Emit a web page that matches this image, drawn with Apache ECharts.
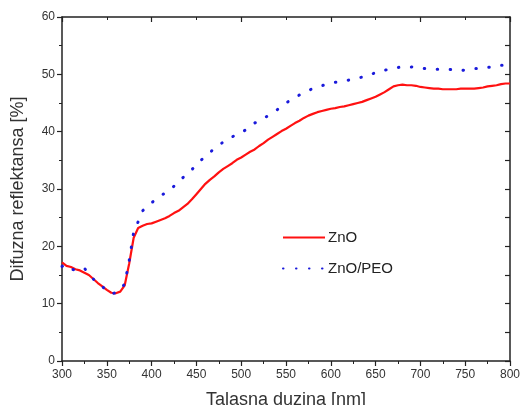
<!DOCTYPE html>
<html><head><meta charset="utf-8">
<script src="https://cdn.jsdelivr.net/npm/echarts@6/dist/echarts.min.js"></script>
<style>html,body{margin:0;padding:0;background:#fff}#c{width:521px;height:405px}</style>
</head><body><div id="c"></div>
<script>
var wavelengths = [300,305,310,315,320,325,330,335,340,345,350,355,360,365,370,375,380,385,390,395,400,405,410,415,420,425,430,435,440,445,450,455,460,465,470,475,480,485,490,495,500,505,510,515,520,525,530,535,540,545,550,555,560,565,570,575,580,585,590,595,600,605,610,615,620,625,630,635,640,645,650,655,660,665,670,675,680,685,690,695,700,705,710,715,720,725,730,735,740,745,750,755,760,765,770,775,780,785,790,795,800];
var znoValues = [17.2,16.6,16.4,16.0,15.8,15.4,15.0,14.3,13.6,13.0,12.4,11.9,11.8,12.1,13.2,17.0,21.5,23.2,23.6,23.9,24.0,24.3,24.6,24.9,25.3,25.8,26.2,26.8,27.4,28.2,29.1,30.0,30.9,31.6,32.2,32.9,33.5,34.0,34.5,35.1,35.5,36.0,36.5,36.9,37.5,38.0,38.6,39.1,39.6,40.1,40.5,41.0,41.5,41.9,42.4,42.8,43.1,43.4,43.6,43.8,44.0,44.1,44.3,44.4,44.6,44.8,45.0,45.2,45.5,45.8,46.1,46.5,46.9,47.4,47.9,48.1,48.2,48.1,48.1,48.0,47.8,47.7,47.6,47.5,47.5,47.4,47.4,47.4,47.4,47.5,47.5,47.5,47.5,47.6,47.7,47.9,48.0,48.1,48.3,48.4,48.4];
var znoPeoValues = [16.5,16.8,16.1,15.8,16.0,16.2,15.1,14.3,13.6,13.0,12.2,11.7,11.9,12.3,13.5,17.5,22.5,24.3,26.2,27.0,27.6,28.2,28.8,29.3,29.8,30.5,31.2,32.0,32.7,33.4,34.2,35.0,35.7,36.4,37.0,37.6,38.2,38.7,39.1,39.5,39.9,40.3,40.9,41.5,41.9,42.3,42.8,43.3,43.8,44.4,45.0,45.5,45.9,46.4,46.8,47.2,47.5,47.8,48.0,48.3,48.4,48.6,48.7,48.8,49.0,49.2,49.4,49.5,49.8,50.0,50.3,50.6,50.7,50.9,51.0,51.2,51.3,51.3,51.3,51.2,51.1,51.0,51.0,50.9,50.9,50.9,50.9,50.8,50.7,50.6,50.8,50.9,51.0,51.0,51.1,51.2,51.3,51.5,51.6,51.6,51.6];
var seriesNames = ['ZnO','ZnO/PEO'];
var xTitle = 'Talasna duzina [nm]';
var yTitle = 'Difuzna reflektansa [%]';

function pairs(vals){ return wavelengths.map(function(w,i){ return [w, vals[i]]; }); }

var axisColor = '#222';
var font = 'Liberation Sans, Arial, sans-serif';
var chart = echarts.init(document.getElementById('c'), null, {renderer:'canvas'});
chart.setOption({
  animation:false,
  backgroundColor:'#fff',
  grid:{left:62,right:11,top:17,bottom:44,containLabel:false,outerBoundsMode:'none'},
  legend:{
    orient:'vertical', left:277, top:225, itemGap:16, itemWidth:42, itemHeight:12,
    itemStyle:{opacity:0},
    textStyle:{fontFamily:font,fontSize:15,color:'#222',padding:[0,0,0,-2]},
    data:seriesNames
  },
  xAxis:[{
    type:'value', min:300, max:800, interval:50, position:'bottom',
    name:xTitle, nameLocation:'middle', nameGap:30,
    nameTextStyle:{fontFamily:font,fontSize:18,color:'#333'},
    axisLine:{show:true,onZero:false,lineStyle:{color:axisColor,width:1.5}},
    axisTick:{show:true,inside:false,length:5,lineStyle:{color:axisColor,width:1.2}},
    minorTick:{show:true,splitNumber:2,length:3,lineStyle:{color:axisColor,width:1}},
    axisLabel:{fontFamily:font,fontSize:12,color:'#333',margin:8},
    splitLine:{show:false}
  },{
    type:'value', min:300, max:800, interval:100, position:'top',
    axisLine:{show:true,onZero:false,lineStyle:{color:axisColor,width:1.5}},
    axisTick:{show:true,inside:true,length:5,lineStyle:{color:axisColor,width:1.2}},
    minorTick:{show:true,splitNumber:2,length:3,lineStyle:{color:axisColor,width:1}},
    axisLabel:{show:false}, splitLine:{show:false}
  }],
  yAxis:[{
    type:'value', min:0, max:60, interval:10, position:'left',
    name:yTitle, nameLocation:'middle', nameGap:35, nameRotate:90,
    nameTextStyle:{fontFamily:font,fontSize:18,color:'#333'},
    axisLine:{show:true,onZero:false,lineStyle:{color:axisColor,width:1.5}},
    axisTick:{show:true,inside:false,length:5,lineStyle:{color:axisColor,width:1.2}},
    minorTick:{show:true,splitNumber:2,length:3,lineStyle:{color:axisColor,width:1}},
    axisLabel:{fontFamily:font,fontSize:12,color:'#333',margin:7},
    splitLine:{show:false}
  },{
    type:'value', min:0, max:60, interval:10, position:'right',
    axisLine:{show:true,onZero:false,lineStyle:{color:axisColor,width:1.5}},
    axisTick:{show:true,inside:true,length:5,lineStyle:{color:axisColor,width:1.2}},
    minorTick:{show:true,splitNumber:2,length:5,lineStyle:{color:axisColor,width:1.2}},
    axisLabel:{show:false}, splitLine:{show:false}
  }],
  series:[{
    name:seriesNames[0], type:'line', xAxisIndex:0, yAxisIndex:0,
    data:pairs(znoValues), showSymbol:false, symbol:'none',
    itemStyle:{color:'#ff1111'},
    lineStyle:{color:'#ff1111',width:2.2}
  },{
    name:seriesNames[1], type:'line', xAxisIndex:0, yAxisIndex:0,
    data:pairs(znoPeoValues), showSymbol:false, symbol:'none',
    itemStyle:{color:'#1a1adb'},
    lineStyle:{color:'#1a1adb',width:3,type:[0.5,12.5],cap:'round'}
  }]
});
</script></body></html>
